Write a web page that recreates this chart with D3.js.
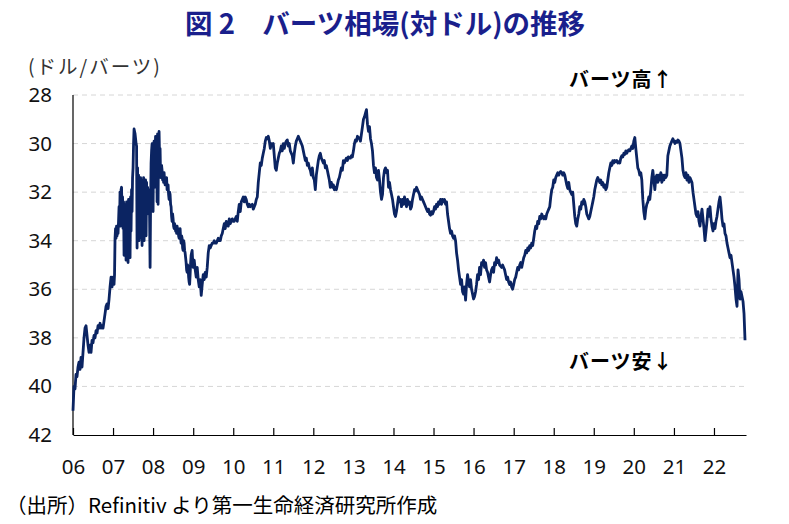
<!DOCTYPE html>
<html><head><meta charset="utf-8">
<script src="https://cdn.jsdelivr.net/npm/d3@7"></script>
<style>
body{margin:0;background:#fff;}
svg{display:block;}
</style>
</head><body>
<svg id="chart" width="789" height="524"></svg>
<script>
// ---- Data (THB per USD), evenly spaced readings within each year ----
const titleText = "図 2　バーツ相場(対ドル)の推移";
const unitLabel = "(ドル/バーツ)";
const sourceText = "（出所）Refinitiv より第一生命経済研究所作成";
const noteUp = "バーツ高↑";
const noteDown = "バーツ安↓";

const thb2006 = [41.0,40.0,40.1,39.5,39.6,39.2,39.0,39.3,38.8,39.2,38.6,38.0,37.6,37.5,37.9,38.3,38.6,38.3,38.6,38.1,38.2,37.9,38.0,37.7,37.8,37.5,37.6,37.4,37.6,37.5,37.6,37.3,37.0,36.7,36.6,36.8,36.4,35.9,35.5,35.9];
const thb2007 = [35.5,35.7,35.8,35.4,33.9,33.5,33.9,33.4,33.8,33.4,33.7,33.2,32.6,33.3,32.0,33.4,31.9,31.8,33.0,32.2,33.5,32.4,34.6,32.5,34.3,32.6,34.8,32.4,34.2,32.8,34.9,32.3,34.0,32.5,34.7,32.2,33.6,31.9,32.8,31.4,31.0,30.0,29.4,29.5,29.6,29.8,30.0,30.1,34.3,31.0,33.6,31.3,34.0,31.5,33.2,31.4,33.9,31.6,34.2,31.5,33.5,31.4,34.0,31.7,33.3,31.5,33.8,31.6,32.9,31.8,32.4,31.9,32.2,33.0,35.1,32.5,30.8,30.3,30.0,30.4];
const thb2008 = [32.8,30.2,29.9,31.8,30.3,29.7,31.2,29.8,32.4,29.6,32.5,29.7,29.5,30.6,30.2,31.4,31.3,30.9,31.1,31.5,31.3,31.6,31.2,31.5,31.7,31.4,31.6,31.4,31.9,31.8,31.7,32.1,32.3,32.0,32.1,32.5,32.6,33.0,33.2,32.9,33.1,33.4,33.5,33.3,33.4,33.6,33.5,33.7,33.4,33.6,33.5,33.8,33.9,33.6,33.5,33.9,34.1,33.8,33.9,34.3,34.4,34.0,34.1,34.4,34.5,34.7,34.9,35.2,35.3,35.0,35.1,35.5,35.7,35.8,35.4,34.9,34.6,34.5,34.4,34.8];
const thb2009 = [35.1,34.8,35.2,35.5,35.1,35.6,35.9,35.6,36.25,35.8,35.4,35.6,35.3,35.5,35.1,34.5,34.2,34.3,34.2,34.1,34.1,34.0,34.1,34.1,34.0,33.9,34.0,34.0,33.8,33.7,33.5,33.3,33.5,33.2,33.3,33.4,33.1,33.3,33.2,33.1];
const thb2010 = [33.2,33.2,33.1,33.0,33.2,32.8,32.5,32.8,32.4,32.3,32.2,32.4,32.2,32.3,32.5,32.6,32.5,32.6,32.55,32.5,32.7,32.6,32.5,32.3,32.2,31.6,31.2,30.8,30.9,30.6,30.4,30.2,29.9,29.75,29.8,29.7,29.9,30.2,30.0,30.1];
const thb2011 = [30.0,30.5,31.0,31.1,30.8,30.6,30.4,30.3,30.1,30.3,30.0,30.2,30.0,29.9,29.85,30.1,30.0,30.3,30.4,30.5,30.8,30.4,30.1,29.9,29.8,29.7,29.8,29.9,30.0,30.1,30.3,30.5,30.7,30.6,30.9,30.8,31.0,31.1,31.3,31.0];
const thb2012 = [31.4,31.5,31.9,31.3,31.0,30.7,30.5,30.4,30.6,30.7,30.8,30.7,31.0,30.9,31.1,31.3,31.5,31.8,31.6,31.8,31.7,31.9,31.8,31.9,31.7,31.5,31.4,31.2,31.0,31.1,30.7,30.8,30.7,30.6,30.7,30.55,30.6,30.6,30.5,30.55];
const thb2013 = [30.3,30.0,29.85,29.9,29.7,29.75,29.8,29.9,29.6,29.3,29.0,28.9,28.75,28.6,29.2,29.5,29.3,29.8,30.0,30.3,30.9,31.2,31.0,31.4,31.5,31.1,31.5,32.0,32.3,32.1,31.4,31.1,31.0,31.2,31.1,31.8,31.6,31.9,32.1,32.3];
const thb2014 = [32.6,32.9,33.0,32.8,32.5,32.2,32.4,32.3,32.6,32.3,32.5,32.2,32.4,32.6,32.3,32.5,32.4,32.7,32.6,32.3,32.1,31.9,31.95,31.8,31.9,32.0,32.1,32.3,32.2,32.3,32.4,32.5,32.6,32.7,32.8,32.7,32.9,32.95,32.8,32.9];
const thb2015 = [32.8,32.6,32.7,32.5,32.6,32.4,32.5,32.3,32.5,32.3,32.4,32.3,32.5,32.4,32.9,33.2,33.5,33.7,33.6,33.8,33.9,33.8,34.0,34.5,34.8,35.2,35.5,35.8,35.6,36.1,36.2,35.9,36.45,35.8,35.4,35.7,35.9,35.6,36.0,36.2];
const thb2016 = [36.4,36.3,36.1,35.8,35.4,35.6,35.1,35.4,34.9,35.0,34.8,35.1,34.9,35.2,35.3,35.5,35.7,35.4,35.2,35.1,35.3,34.9,35.0,34.7,34.9,34.8,35.0,35.05,35.1,35.0,35.1,35.2,35.4,35.6,35.5,35.7,35.8,35.7,35.9,36.0];
const thb2017 = [35.8,35.6,35.5,35.3,35.1,35.2,35.0,34.9,35.1,34.9,34.7,34.6,34.4,34.5,34.3,34.4,34.2,34.3,34.1,34.2,33.9,33.6,33.4,33.5,33.2,33.3,33.0,33.1,32.9,33.0,33.1,33.0,33.1,32.9,32.8,32.7,32.6,32.2,31.9,31.8];
const thb2018 = [31.5,31.6,31.4,31.3,31.2,31.3,31.2,31.15,31.2,31.3,31.2,31.3,31.5,31.7,31.85,31.6,31.9,32.0,32.1,32.0,32.5,33.0,33.3,33.4,33.1,32.9,32.6,32.7,32.4,32.5,32.3,32.4,32.6,32.9,33.0,33.1,33.0,32.8,32.6,32.4];
const thb2019 = [32.2,31.9,31.7,31.5,31.4,31.5,31.6,31.5,31.7,31.6,31.8,31.7,31.9,31.8,31.5,31.2,31.0,30.8,30.9,30.7,30.8,30.7,30.75,30.7,30.8,30.75,30.8,30.6,30.5,30.55,30.4,30.45,30.3,30.4,30.3,30.25,30.3,30.2,30.1,30.2];
const thb2020 = [29.9,29.75,30.2,30.6,31.0,31.1,31.3,31.2,31.5,32.3,32.8,33.1,32.7,32.5,32.4,32.2,32.3,31.9,31.4,31.1,31.5,31.9,31.4,31.3,31.6,31.3,31.5,31.2,31.6,31.3,31.5,31.3,31.4,31.3,30.5,30.3,30.1,30.0,29.9,29.8];
const thb2021 = [29.9,30.0,29.9,29.95,29.85,29.9,30.0,30.3,30.6,31.1,31.3,31.4,31.2,31.5,31.3,31.6,31.4,31.5,31.6,32.0,32.3,32.6,32.9,33.0,32.8,33.2,33.4,33.0,32.7,33.1,33.5,34.0,33.6,33.2,32.7,33.0,32.6,33.1,33.4,33.6];
const thb2022 = [33.3,33.5,33.2,33.0,32.7,32.4,32.2,32.6,33.1,33.4,33.3,33.7,33.8,34.1,34.3,34.5,34.7,34.6,34.9,35.2,35.5,35.9,36.4,36.7,35.2,35.6,36.4,36.1,36.3,36.5,37.0,38.1];

const years = [2006,2007,2008,2009,2010,2011,2012,2013,2014,2015,2016,2017,2018,2019,2020,2021,2022];
const samplesPerYear = [40,80,80,40,40,40,40,40,40,40,40,40,40,40,40,40,40];
const yearlySeries = [thb2006,thb2007,thb2008,thb2009,thb2010,thb2011,thb2012,thb2013,thb2014,thb2015,thb2016,thb2017,thb2018,thb2019,thb2020,thb2021,thb2022];
const yTicks = [28,30,32,34,36,38,40,42];
const gridValues = [28,30,32,34,36,38,40];
const xTickLabels = ["06","07","08","09","10","11","12","13","14","15","16","17","18","19","20","21","22"];

// ---- Build the table ----
const DAY = 864e5;
const data = years.flatMap((yr, k) => yearlySeries[k].map((v, i) => ({
  date: new Date(new Date(yr, 0, 1).getTime() + (i / samplesPerYear[k]) * 365.25 * DAY),
  value: v
})));

// ---- Layout ----
const svg = d3.select("#chart");
const plotL = 73, plotR = 746, plotT = 95, plotB = 435;
const cjk = '"Noto Sans CJK JP","Noto Sans",sans-serif';
const latin = '"Noto Sans","Open Sans",sans-serif';

const x = d3.scaleTime()
  .domain([new Date(2006, 0, 1), new Date(2022, 9, 20)])
  .range([plotL, plotR]);
const y = d3.scaleLinear().domain([28, 42]).range([plotT, plotB]);

// gridlines
svg.append("g").selectAll("line").data(gridValues).join("line")
  .attr("x1", plotL).attr("x2", plotR)
  .attr("y1", d => y(d)).attr("y2", d => y(d))
  .attr("stroke", "#d6d6d6").attr("stroke-width", 1)
  .attr("stroke-dasharray", "5,4");

// y axis labels
const yAxis = svg.append("g").attr("transform", `translate(${plotL},0)`)
  .call(d3.axisLeft(y).tickValues(yTicks).tickSize(0).tickPadding(21).tickFormat(d3.format("d")));
yAxis.select(".domain").remove();
yAxis.selectAll("text").attr("font-size", 20.5).attr("font-family", latin).attr("fill", "#111");
svg.append("line").attr("x1", plotL).attr("x2", plotL).attr("y1", plotT).attr("y2", plotB)
  .attr("stroke", "#000").attr("stroke-width", 1.2);

// x axis
const tickDates = years.map(yr => new Date(yr, 0, 1));
const xAxis = svg.append("g").attr("transform", `translate(0,${plotB})`)
  .call(d3.axisBottom(x).tickValues(tickDates).tickSizeInner(-7).tickSizeOuter(0)
    .tickPadding(24).tickFormat((d, i) => xTickLabels[i]));
xAxis.select(".domain").attr("stroke", "#000").attr("stroke-width", 1.2);
xAxis.selectAll(".tick line").attr("stroke", "#000").attr("stroke-width", 1.2);
xAxis.selectAll("text").attr("font-size", 20.5).attr("font-family", latin).attr("fill", "#111");

// line
svg.append("path").datum(data)
  .attr("fill", "none")
  .attr("stroke", "#0b2462")
  .attr("stroke-width", 2.8)
  .attr("stroke-linejoin", "round")
  .attr("d", d3.line().x(d => x(d.date)).y(d => y(d.value)));

// texts
svg.append("text").attr("x", 385).attr("y", 34).attr("text-anchor", "middle")
  .attr("font-family", cjk).attr("font-weight", 700).attr("font-size", 27.5)
  .attr("fill", "#1a1f8c").text(titleText);
svg.append("text").attr("x", 28).attr("y", 74)
  .attr("font-family", cjk).attr("font-size", 19.5).attr("letter-spacing", 2)
  .attr("fill", "#333").text(unitLabel);
svg.append("text").attr("x", 569).attr("y", 87)
  .attr("font-family", cjk).attr("font-weight", 700).attr("font-size", 20).attr("letter-spacing", 1)
  .attr("fill", "#000").text(noteUp);
svg.append("text").attr("x", 569).attr("y", 369)
  .attr("font-family", cjk).attr("font-weight", 700).attr("font-size", 20).attr("letter-spacing", 1)
  .attr("fill", "#000").text(noteDown);
svg.append("text").attr("x", 6).attr("y", 513)
  .attr("font-family", cjk).attr("font-size", 20.5).attr("fill", "#000").text(sourceText);
</script>
</body></html>
